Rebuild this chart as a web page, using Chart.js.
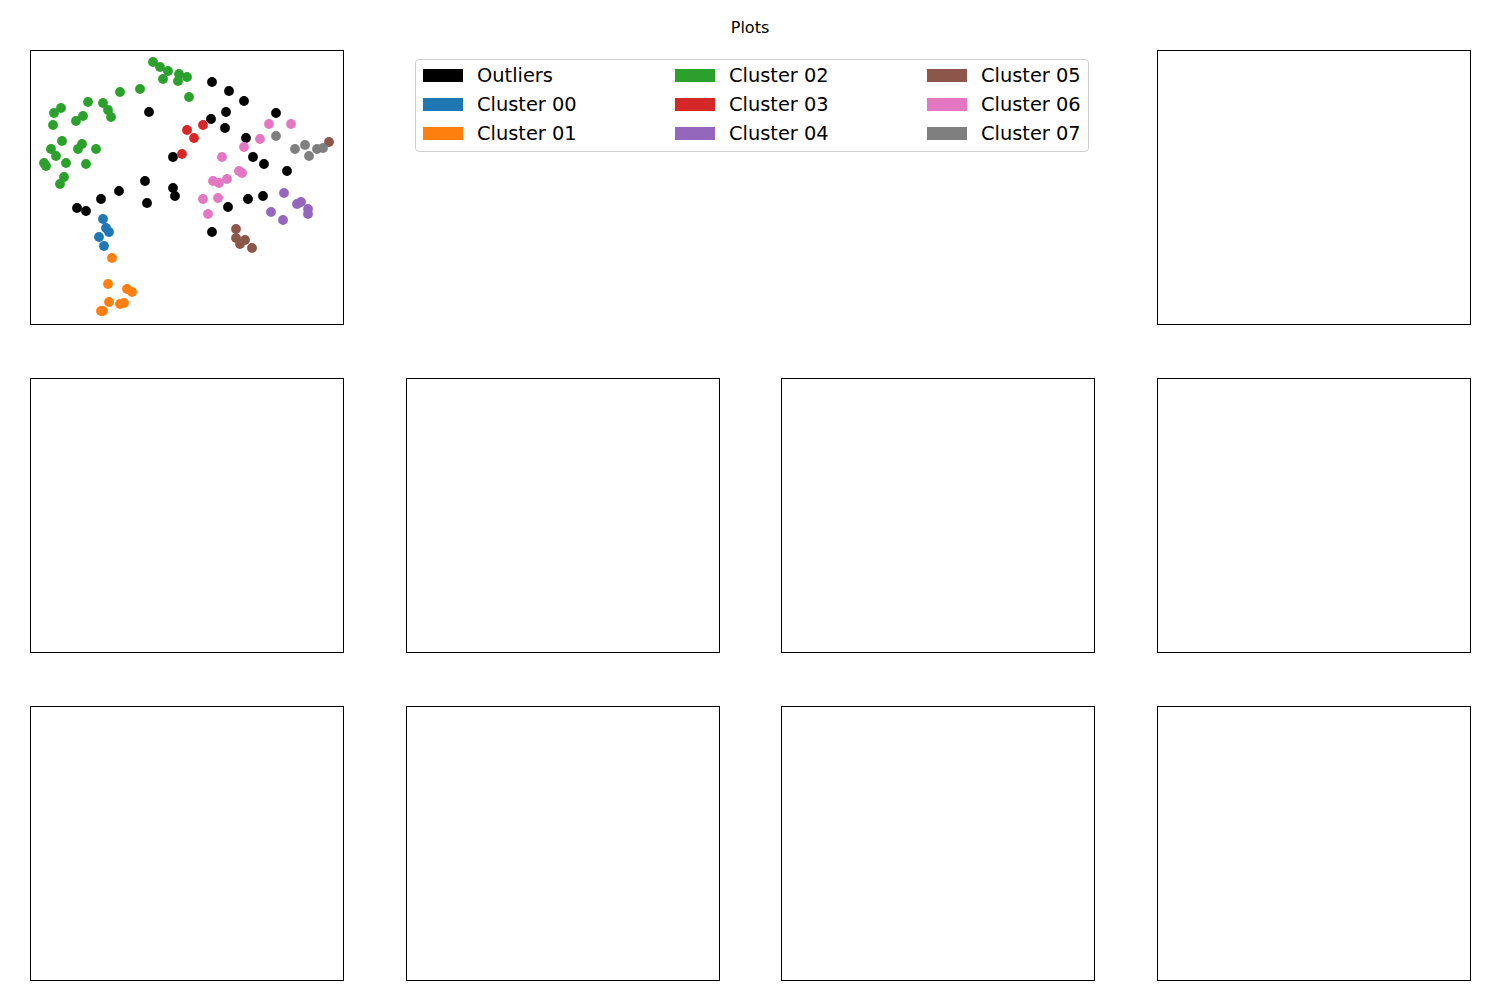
<!DOCTYPE html>
<html>
<head>
<meta charset="utf-8">
<script src="https://cdn.jsdelivr.net/npm/chart.js@4"></script>
<style>
  body { margin: 0; background: #fff; font-family: "DejaVu Sans", sans-serif; }
  #page { position: relative; width: 1500px; height: 1000px; }
  #title { position: absolute; left: 0; width: 1500px; top: 18px; text-align: center; font-size: 16px; color: #000; }
  .box { position: absolute; width: 314px; height: 275px; border: 1px solid #000; box-sizing: border-box; pointer-events: none; }
  #scatter { position: absolute; left: 30px; top: 50px; }
  #legend { position: absolute; left: 415px; top: 59px; width: 674px; height: 93px; border: 1px solid #d0d0d0;
            border-radius: 4px; box-sizing: border-box; }
  .item { position: absolute; font-size: 19.4px; line-height: 20px; color: #000; white-space: nowrap; }
  .patch { display: inline-block; width: 40px; height: 13px; vertical-align: middle; margin-right: 14px; position: relative; top: -1px; }
</style>
</head>
<body>
<div id="page">
  <div id="title">Plots</div>
  <canvas id="scatter" width="313" height="274"></canvas>
  <div id="legend"></div>
</div>
<script>
// cluster names and colours (matplotlib tab10, outliers black)
const names = ['Outliers', 'Cluster 00', 'Cluster 01', 'Cluster 02', 'Cluster 03',
               'Cluster 04', 'Cluster 05', 'Cluster 06', 'Cluster 07'];
const colors = ['#000000', '#1f77b4', '#ff7f0e', '#2ca02c', '#d62728',
                '#9467bd', '#8c564b', '#e377c2', '#7f7f7f'];

// points, [x, y]
const outliers = [[182,242],[199,233],[214,223],[246,211],[196,212],[181,205],[195,196],[216,186],
  [223,167],[234,160],[257,153],[119,212],[143,167],[115,143],[89,133],[71,125],[47,116],[56,113],
  [117,121],[143,136],[145,128],[198,117],[218,125],[233,128],[182,92]];
const cluster00 = [[73,105],[76,96],[79,92],[69,87],[74,78]];
const cluster01 = [[82,66],[78,40],[97,35],[102,32],[79,22],[90,20],[94,21],[73,13],[71,13]];
const cluster02 = [[123,262],[130,257],[138,253],[149,250],[157,247],[133,245],[148,243],[159,227],
  [110,235],[90,232],[58,222],[73,221],[78,214],[81,207],[31,216],[24,211],[53,208],[46,203],
  [23,199],[32,183],[52,180],[48,175],[66,175],[21,175],[26,168],[36,161],[56,160],[14,161],
  [16,158],[34,147],[30,140]];
const cluster03 = [[157,194],[173,199],[164,186],[152,170]];
const cluster04 = [[254,131],[241,112],[253,104],[267,120],[271,122],[278,115],[278,110]];
const cluster05 = [[299,182],[206,95],[206,86],[210,80],[215,84],[222,76]];
const cluster06 = [[239,200],[261,200],[230,185],[214,177],[192,167],[212,151],[209,153],[197,145],
  [183,143],[189,141],[173,125],[188,126],[178,110]];
const cluster07 = [[246,188],[265,175],[275,179],[279,168],[287,175],[293,176]];

const groups = [outliers, cluster00, cluster01, cluster02, cluster03, cluster04, cluster05, cluster06, cluster07];

// subplot grid (3 rows x 4 cols); the legend sits where cells (0,1) and (0,2) would be
const colLefts = [30, 406, 781, 1157];
const rowTops = [50, 378, 706];

const page = document.getElementById('page');
rowTops.forEach((top, r) => {
  colLefts.forEach((left, c) => {
    if (r === 0 && (c === 1 || c === 2)) return;
    const d = document.createElement('div');
    d.className = 'box';
    d.style.left = left + 'px';
    d.style.top = top + 'px';
    page.appendChild(d);
  });
});

// legend, 3 columns of 3 entries
const legend = document.getElementById('legend');
names.forEach((name, i) => {
  const col = Math.floor(i / 3), row = i % 3;
  const el = document.createElement('div');
  el.className = 'item';
  el.style.left = (7 + col * 252) + 'px';
  el.style.top = (6 + row * 29) + 'px';
  el.innerHTML = '<span class="patch" style="background:' + colors[i] + '"></span>' + name;
  legend.appendChild(el);
});

const datasets = groups.map((pts, i) => ({
  label: names[i],
  data: pts.map(p => ({ x: p[0], y: p[1] })),
  backgroundColor: colors[i],
  borderWidth: 0,
  pointRadius: 4.9,
  pointHoverRadius: 4.9,
  clip: false,
  order: groups.length - i
}));

new Chart(document.getElementById('scatter'), {
  type: 'scatter',
  data: { datasets: datasets },
  options: {
    responsive: false,
    animation: false,
    layout: { padding: 0, autoPadding: false },
    plugins: { legend: { display: false }, tooltip: { enabled: false } },
    scales: {
      x: { display: false, min: 0, max: 313 },
      y: { display: false, min: 0, max: 274 }
    }
  }
});
</script>
</body>
</html>
